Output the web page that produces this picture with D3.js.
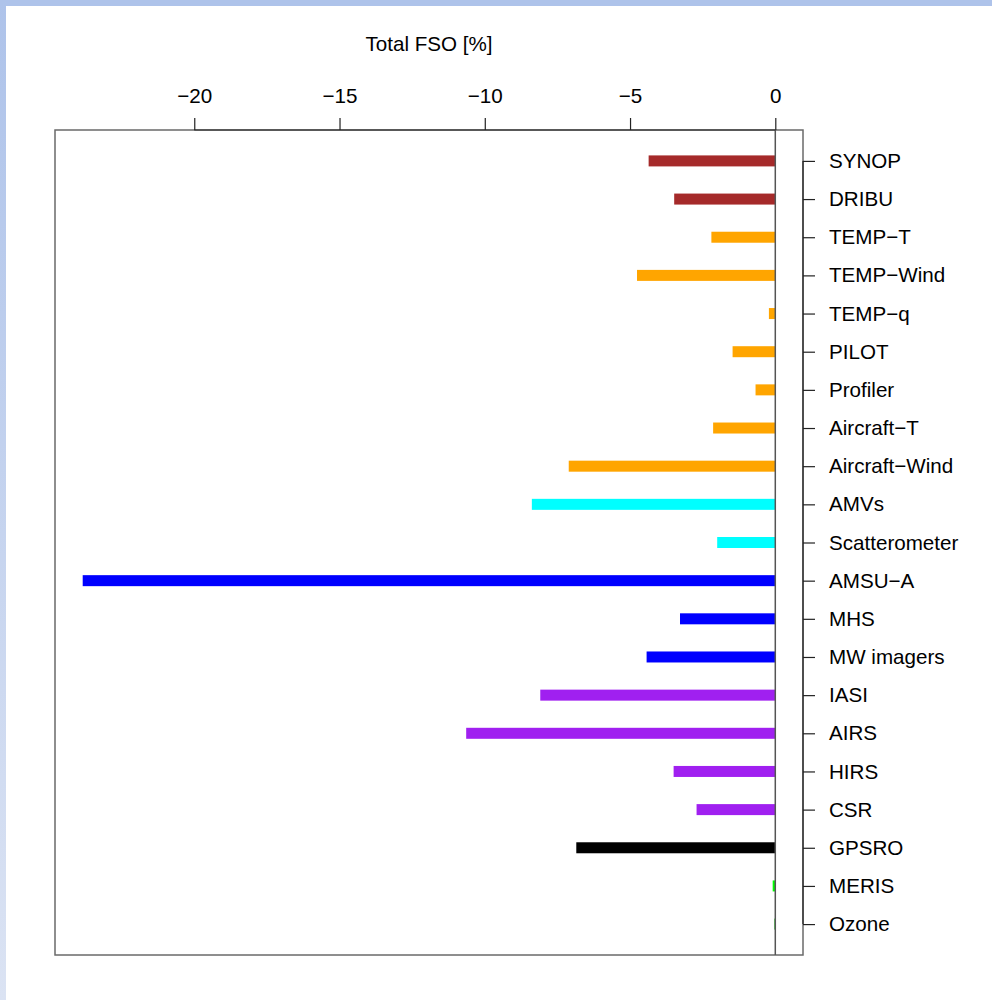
<!DOCTYPE html>
<html>
<head>
<meta charset="utf-8">
<script src="https://cdn.jsdelivr.net/npm/d3@7"></script>
<style>
  body { margin: 0; background: #fff; }
  text { font-family: "Liberation Sans", Arial, Helvetica, sans-serif; fill: #000; }
</style>
</head>
<body>
<div id="chart"></div>
<script>
// Observation types, top to bottom
const categories = ["SYNOP", "DRIBU", "TEMP\u2212T", "TEMP\u2212Wind", "TEMP\u2212q", "PILOT", "Profiler",
  "Aircraft\u2212T", "Aircraft\u2212Wind", "AMVs", "Scatterometer", "AMSU\u2212A", "MHS", "MW imagers",
  "IASI", "AIRS", "HIRS", "CSR", "GPSRO", "MERIS", "Ozone"];

// Total FSO [%] per observation type
const fsoValues = [-4.36, -3.48, -2.20, -4.76, -0.22, -1.47, -0.68,
  -2.14, -7.11, -8.38, -2.00, -23.84, -3.28, -4.43,
  -8.09, -10.64, -3.50, -2.71, -6.85, -0.09, -0.03];

const barColors = ["#a52a2a", "#a52a2a", "#ffa500", "#ffa500", "#ffa500", "#ffa500", "#ffa500",
  "#ffa500", "#ffa500", "#00ffff", "#00ffff", "#0000ff", "#0000ff", "#0000ff",
  "#a020f0", "#a020f0", "#a020f0", "#a020f0", "#000000", "#00ff00", "#00c000"];

const xTicks = [-20, -15, -10, -5, 0];

const width = 992, height = 1000;
const box = { left: 55, right: 803, top: 130, bottom: 955 };
const fontSize = 20.6;

const svg = d3.select("#chart").append("svg")
    .attr("width", width)
    .attr("height", height);

// page frame: blue strips on top and left
const grad = svg.append("defs").append("linearGradient")
    .attr("id", "edge")
    .attr("x1", 0).attr("y1", 0).attr("x2", 0).attr("y2", 1);
grad.append("stop").attr("offset", "0%").attr("stop-color", "#aec3ea");
grad.append("stop").attr("offset", "100%").attr("stop-color", "#dbe3f3");

svg.append("rect").attr("x", 0).attr("y", 0).attr("width", width).attr("height", 6).attr("fill", "#aec3ea");
svg.append("rect").attr("x", 0).attr("y", 0).attr("width", 6).attr("height", height).attr("fill", "url(#edge)");

// scales (R style 4% extension)
const xmin = d3.min(fsoValues);
const pad = 0.04 * (0 - xmin);
const x = d3.scaleLinear().domain([xmin - pad, pad]).range([box.left, box.right]);
const y = d3.scalePoint().domain(categories).range([box.top, box.bottom]).padding(0.81);

// plot box
svg.append("rect")
    .attr("x", box.left).attr("y", box.top)
    .attr("width", box.right - box.left).attr("height", box.bottom - box.top)
    .attr("fill", "none")
    .attr("stroke", "#6a6a6a")
    .attr("stroke-width", 1.5);

// bars
svg.selectAll(".bar")
    .data(fsoValues)
    .enter()
    .append("rect")
    .attr("class", "bar")
    .attr("x", d => x(Math.min(d, 0)))
    .attr("y", (d, i) => y(categories[i]) - 5.5)
    .attr("width", d => Math.abs(x(d) - x(0)))
    .attr("height", 11)
    .attr("fill", (d, i) => barColors[i]);

// zero line
svg.append("line")
    .attr("x1", x(0)).attr("x2", x(0))
    .attr("y1", box.top).attr("y2", box.bottom)
    .attr("stroke", "#555")
    .attr("stroke-width", 1.5);

// top axis
const topAxis = svg.append("g")
    .attr("transform", `translate(0,${box.top})`)
    .call(d3.axisTop(x).tickValues(xTicks).tickSize(12).tickPadding(15)
        .tickFormat(d => d < 0 ? "\u2212" + Math.abs(d) : d));
topAxis.select(".domain").attr("d", `M${x(-20)},0H${x(0)}`).attr("stroke", "#222").attr("stroke-width", 1.2);
topAxis.selectAll(".tick line").attr("stroke", "#222").attr("stroke-width", 1.2);
topAxis.selectAll("text").attr("font-size", fontSize).style("font-family", "Liberation Sans, Arial, sans-serif");

// right axis
const rightAxis = svg.append("g")
    .attr("transform", `translate(${box.right},0)`)
    .call(d3.axisRight(y).tickSize(12).tickPadding(14));
rightAxis.select(".domain")
    .attr("d", `M0,${y(categories[0])}V${y(categories[categories.length - 1])}`)
    .attr("stroke", "#222").attr("stroke-width", 1.2);
rightAxis.selectAll(".tick line").attr("stroke", "#222").attr("stroke-width", 1.2);
rightAxis.selectAll("text").attr("font-size", fontSize).style("font-family", "Liberation Sans, Arial, sans-serif");

// title
svg.append("text")
    .attr("x", (box.left + box.right) / 2)
    .attr("y", 51)
    .attr("text-anchor", "middle")
    .attr("font-size", fontSize)
    .text("Total FSO [%]");
</script>
</body>
</html>
